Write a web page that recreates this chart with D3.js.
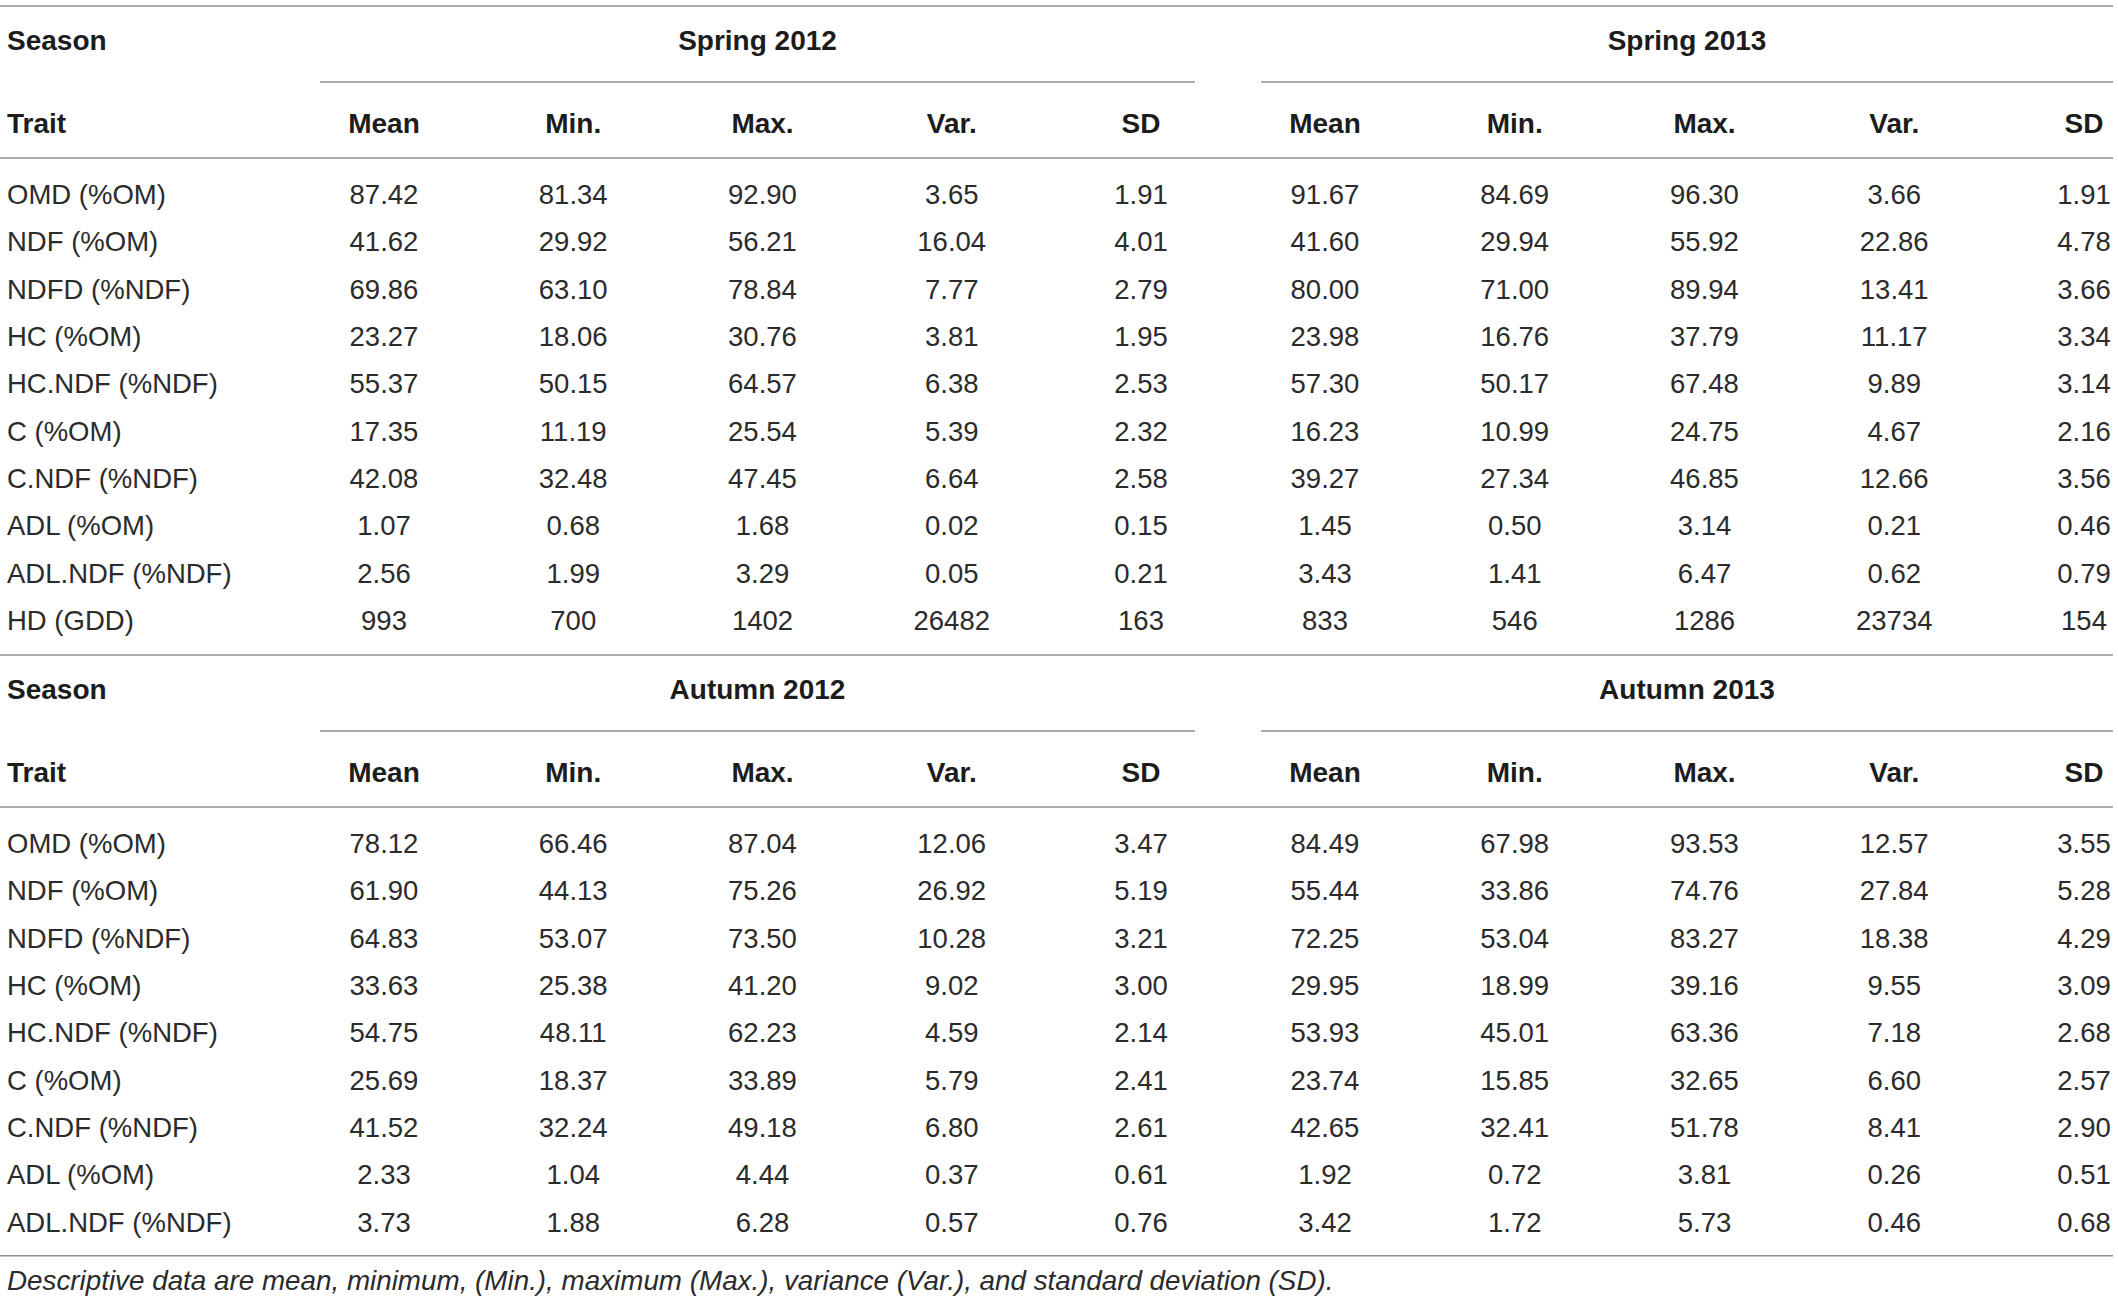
<!DOCTYPE html>
<html>
<head>
<meta charset="utf-8">
<script src="https://cdn.jsdelivr.net/npm/d3@7"></script>
<style>
    body { margin: 0; background: #fff; }
    svg { display: block; }
</style>
</head>
<body>
<svg id="table"></svg>
<script>

// Table content
const stats = ["Mean", "Min.", "Max.", "Var.", "SD"];

const traitsTop = ["OMD (%OM)", "NDF (%OM)", "NDFD (%NDF)", "HC (%OM)", "HC.NDF (%NDF)",
    "C (%OM)", "C.NDF (%NDF)", "ADL (%OM)", "ADL.NDF (%NDF)", "HD (GDD)"];
const traitsBottom = traitsTop.slice(0, 9);

const spring2012 = [
    ["87.42", "81.34", "92.90", "3.65", "1.91"],
    ["41.62", "29.92", "56.21", "16.04", "4.01"],
    ["69.86", "63.10", "78.84", "7.77", "2.79"],
    ["23.27", "18.06", "30.76", "3.81", "1.95"],
    ["55.37", "50.15", "64.57", "6.38", "2.53"],
    ["17.35", "11.19", "25.54", "5.39", "2.32"],
    ["42.08", "32.48", "47.45", "6.64", "2.58"],
    ["1.07", "0.68", "1.68", "0.02", "0.15"],
    ["2.56", "1.99", "3.29", "0.05", "0.21"],
    ["993", "700", "1402", "26482", "163"]
];

const spring2013 = [
    ["91.67", "84.69", "96.30", "3.66", "1.91"],
    ["41.60", "29.94", "55.92", "22.86", "4.78"],
    ["80.00", "71.00", "89.94", "13.41", "3.66"],
    ["23.98", "16.76", "37.79", "11.17", "3.34"],
    ["57.30", "50.17", "67.48", "9.89", "3.14"],
    ["16.23", "10.99", "24.75", "4.67", "2.16"],
    ["39.27", "27.34", "46.85", "12.66", "3.56"],
    ["1.45", "0.50", "3.14", "0.21", "0.46"],
    ["3.43", "1.41", "6.47", "0.62", "0.79"],
    ["833", "546", "1286", "23734", "154"]
];

const autumn2012 = [
    ["78.12", "66.46", "87.04", "12.06", "3.47"],
    ["61.90", "44.13", "75.26", "26.92", "5.19"],
    ["64.83", "53.07", "73.50", "10.28", "3.21"],
    ["33.63", "25.38", "41.20", "9.02", "3.00"],
    ["54.75", "48.11", "62.23", "4.59", "2.14"],
    ["25.69", "18.37", "33.89", "5.79", "2.41"],
    ["41.52", "32.24", "49.18", "6.80", "2.61"],
    ["2.33", "1.04", "4.44", "0.37", "0.61"],
    ["3.73", "1.88", "6.28", "0.57", "0.76"]
];

const autumn2013 = [
    ["84.49", "67.98", "93.53", "12.57", "3.55"],
    ["55.44", "33.86", "74.76", "27.84", "5.28"],
    ["72.25", "53.04", "83.27", "18.38", "4.29"],
    ["29.95", "18.99", "39.16", "9.55", "3.09"],
    ["53.93", "45.01", "63.36", "7.18", "2.68"],
    ["23.74", "15.85", "32.65", "6.60", "2.57"],
    ["42.65", "32.41", "51.78", "8.41", "2.90"],
    ["1.92", "0.72", "3.81", "0.26", "0.51"],
    ["3.42", "1.72", "5.73", "0.46", "0.68"]
];

const footnote = "Descriptive data are mean, minimum, (Min.), maximum (Max.), variance (Var.), and standard deviation (SD).";

const width = 2118;
const height = 1306;

const font = "'Liberation Sans', Arial, Helvetica, sans-serif";
const lineColor = "#8f8f8f";
const rowStep = 47.35;
const ruleEnd = 2113;

const svg = d3.select("#table")
    .attr("width", width)
    .attr("height", height)
    .attr("viewBox", [0, 0, width, height])
    .style("font-family", font);

// one point scale per season group
const groupX = [
    d3.scalePoint().domain(stats).range([384, 1141]),
    d3.scalePoint().domain(stats).range([1325, 2084])
];

/*
 * Draw one block: header rows (season / trait) and the data rows below.
 */
const drawBlock = (top, seasons, traits, groups) => {

    const g = svg.append("g").attr("transform", `translate(0,${top})`);

    const y = d3.scaleLinear()
        .domain([0, 1])
        .range([198, 198 + rowStep]);

    // rules
    g.selectAll("line.rule")
        .data([0, 152])
        .join("line")
            .attr("class", "rule")
            .attr("x1", 0).attr("x2", ruleEnd)
            .attr("y1", d => d).attr("y2", d => d)
            .attr("stroke", lineColor).attr("stroke-width", 1.6);

    // bold header labels on the left
    g.selectAll("text.lead")
        .data([["Season", 44], ["Trait", 127]])
        .join("text")
            .attr("class", "lead")
            .attr("x", 7)
            .attr("y", d => d[1])
            .attr("font-size", 28)
            .attr("font-weight", "bold")
            .attr("fill", "#1c1c1c")
            .text(d => d[0]);

    seasons.forEach((season, gi) => {

        const x = groupX[gi];
        const x0 = x(stats[0]) - 64;
        const x1 = Math.min(x(stats[stats.length - 1]) + 54, ruleEnd);

        g.append("line")
            .attr("x1", x0).attr("x2", x1)
            .attr("y1", 76).attr("y2", 76)
            .attr("stroke", lineColor).attr("stroke-width", 1.6);

        g.append("text")
            .attr("x", (x0 + x1) / 2)
            .attr("y", 44)
            .attr("text-anchor", "middle")
            .attr("font-size", 28)
            .attr("font-weight", "bold")
            .attr("fill", "#1c1c1c")
            .text(season);

        g.append("g")
            .selectAll("text")
            .data(stats)
            .join("text")
                .attr("x", s => x(s))
                .attr("y", 127)
                .attr("text-anchor", "middle")
                .attr("font-size", 28)
                .attr("font-weight", "bold")
                .attr("fill", "#1c1c1c")
                .text(s => s);

        // values
        g.append("g")
            .selectAll("g")
            .data(groups[gi])
            .join("g")
                .attr("transform", (row, i) => `translate(0,${y(i)})`)
            .selectAll("text")
            .data(row => row)
            .join("text")
                .attr("x", (v, j) => x(stats[j]))
                .attr("text-anchor", "middle")
                .attr("font-size", 27.5)
                .attr("fill", "#2b2b2b")
                .text(v => v);
    });

    g.append("g")
        .selectAll("text")
        .data(traits)
        .join("text")
            .attr("x", 7)
            .attr("y", (t, i) => y(i))
            .attr("font-size", 27.5)
            .attr("fill", "#2b2b2b")
            .text(t => t);

    return y;
}

drawBlock(6, ["Spring 2012", "Spring 2013"], traitsTop, [spring2012, spring2013]);
const yb = drawBlock(655, ["Autumn 2012", "Autumn 2013"], traitsBottom, [autumn2012, autumn2013]);

// closing rule and note
const bottomRule = 655 + yb(traitsBottom.length - 1) + 24;

svg.append("line")
    .attr("x1", 0).attr("x2", ruleEnd)
    .attr("y1", bottomRule).attr("y2", bottomRule)
    .attr("stroke", lineColor).attr("stroke-width", 1.6);

svg.append("text")
    .attr("x", 7)
    .attr("y", bottomRule + 34)
    .attr("font-size", 27.8)
    .attr("font-style", "italic")
    .attr("fill", "#2b2b2b")
    .text(footnote);

</script>
</body>
</html>
